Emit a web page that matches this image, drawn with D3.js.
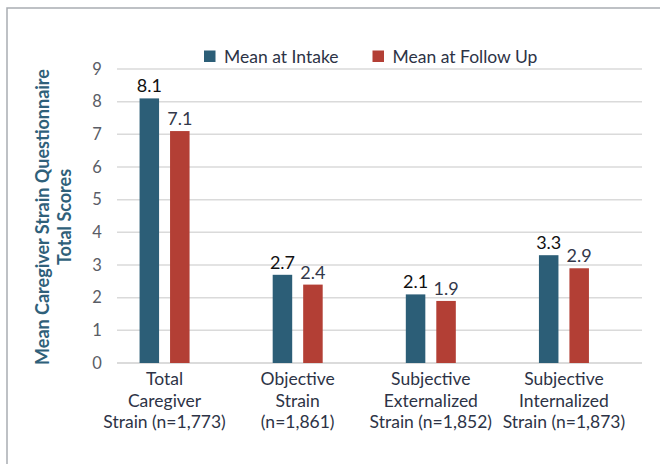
<!DOCTYPE html>
<html>
<head>
  <title>Caregiver Strain</title>
  <script src="https://d3js.org/d3.v7.min.js"></script>
  <style>
    body { margin: 0; background: #fff; }
    text { font-family: Lato, "Noto Sans", sans-serif; }
  </style>
</head>
<body>
  <svg id="chart"></svg>

  <script>
    // data
    const categories = [
      ["Total", "Caregiver", "Strain (n=1,773)"],
      ["Objective", "Strain", "(n=1,861)"],
      ["Subjective", "Externalized", "Strain (n=1,852)"],
      ["Subjective", "Internalized", "Strain (n=1,873)"]
    ];
    const seriesNames = ["Mean at Intake", "Mean at Follow Up"];
    const intake = [8.1, 2.7, 2.1, 3.3];
    const followUp = [7.1, 2.4, 1.9, 2.9];
    const yTicks = [0, 1, 2, 3, 4, 5, 6, 7, 8, 9];

    const colors = ["#2c5e77", "#b33f35"];
    const W = 660, H = 464;
    const plot = { left: 117, right: 642, top: 69, bottom: 363 };

    const svg = d3.select("#chart").attr("width", W).attr("height", H);

    // frame (top + left edges visible)
    svg.append("path")
       .attr("d", `M7,${H} V8 H${W}`)
       .attr("fill", "none")
       .attr("stroke", "#a9adb2")
       .attr("stroke-width", 1.5);

    const y = d3.scaleLinear().domain([0, 9]).range([plot.bottom, plot.top]);

    const keys = categories.map((c, i) => i);
    const x0 = d3.scaleBand().domain(keys).range([98, 630.5]).padding(0);
    const x1 = d3.scaleBand().domain([0, 1]).range([0, 50]).paddingInner(0.36);
    const groupOffset = (x0.bandwidth() - 50) / 2;

    // gridlines
    svg.append("g")
       .selectAll("line")
       .data(yTicks)
       .join("line")
       .attr("x1", plot.left)
       .attr("x2", plot.right)
       .attr("y1", d => y(d))
       .attr("y2", d => y(d))
       .attr("stroke", d => d === 0 ? "#cfcfcf" : "#dadada")
       .attr("stroke-width", 1.5);

    // y tick labels
    svg.append("g")
       .selectAll("text")
       .data(yTicks)
       .join("text")
       .attr("x", 97)
       .attr("y", d => y(d))
       .attr("dy", "0.35em")
       .attr("text-anchor", "middle")
       .attr("font-size", 16.5)
       .attr("fill", "#5a5d66")
       .text(d => d);

    // y title
    svg.append("text")
       .attr("transform", "translate(49,217) rotate(-90)")
       .attr("text-anchor", "middle")
       .attr("font-size", 18)
       .attr("font-weight", "bold")
       .attr("fill", "#2f607a")
       .selectAll("tspan")
       .data(["Mean Caregiver Strain Questionnaire", "Total Scores"])
       .join("tspan")
       .attr("x", 0)
       .attr("dy", (d, i) => i === 0 ? 0 : 22)
       .text(d => d);

    // bars
    const rows = keys.map(i => ({ i, vals: [intake[i], followUp[i]] }));
    const groups = svg.append("g")
       .selectAll("g")
       .data(rows)
       .join("g")
       .attr("transform", d => `translate(${x0(d.i) + groupOffset},0)`);

    groups.selectAll("rect")
       .data(d => d.vals.map((v, s) => ({ v, s })))
       .join("rect")
       .attr("x", d => x1(d.s))
       .attr("width", x1.bandwidth())
       .attr("y", d => y(d.v))
       .attr("height", d => y(0) - y(d.v))
       .attr("fill", d => colors[d.s]);

    groups.selectAll("text")
       .data(d => d.vals.map((v, s) => ({ v, s })))
       .join("text")
       .attr("x", d => x1(d.s) + x1.bandwidth() / 2)
       .attr("y", d => y(d.v) - 6)
       .attr("text-anchor", "middle")
       .attr("font-size", 18)
       .attr("fill", d => d.s === 0 ? "#111" : "#33384a")
       .text(d => d.v.toFixed(1));

    // category labels
    svg.append("g")
       .selectAll("text")
       .data(rows)
       .join("text")
       .attr("x", d => x0(d.i) + x0.bandwidth() / 2)
       .attr("y", 385)
       .attr("text-anchor", "middle")
       .attr("font-size", 17.5)
       .attr("fill", "#2d3346")
       .selectAll("tspan")
       .data(d => categories[d.i].map(t => ({ t, cx: x0(d.i) + x0.bandwidth() / 2 })))
       .join("tspan")
       .attr("x", d => d.cx)
       .attr("dy", (d, i) => i === 0 ? 0 : 21.7)
       .text(d => d.t);

    // legend
    const legendX = [204, 372.5];
    const legend = svg.append("g")
       .selectAll("g")
       .data(seriesNames)
       .join("g")
       .attr("transform", (d, i) => `translate(${legendX[i]},50.5)`);
    legend.append("rect")
       .attr("width", 11.5)
       .attr("height", 11.5)
       .attr("fill", (d, i) => colors[i]);
    legend.append("text")
       .attr("x", 20)
       .attr("y", 6)
       .attr("dy", "0.35em")
       .attr("font-size", 17.5)
       .attr("fill", "#2d3346")
       .text(d => d);
  </script>
</body>
</html>
